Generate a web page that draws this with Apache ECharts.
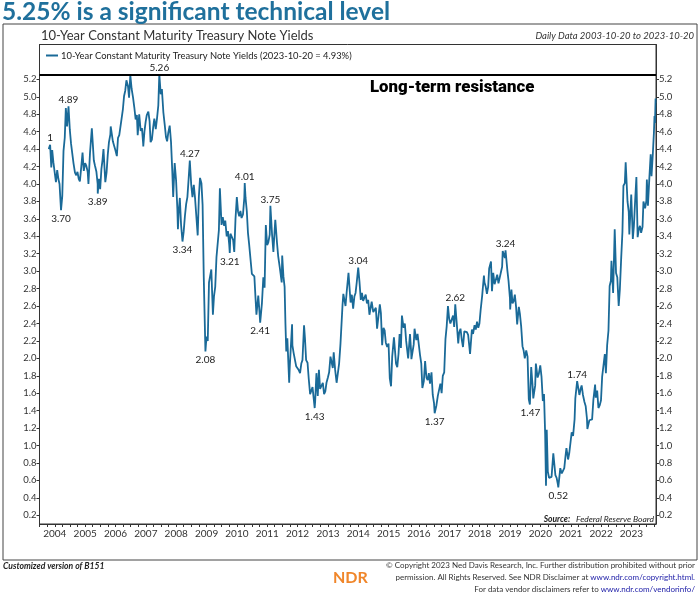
<!DOCTYPE html>
<html><head><meta charset="utf-8">
<script src="https://cdn.jsdelivr.net/npm/echarts@6/dist/echarts.min.js"></script>
<style>html,body{margin:0;padding:0;background:#fff}#c{width:700px;height:597px}</style>
</head><body><div id="c"></div>
<script>
// ---- data (10-Year Constant Maturity Treasury yields) ----
const dates = [
'2003-10-20','2003-11-06','2003-11-20','2003-12-01','2003-12-15','2003-12-31',
'2004-01-15','2004-01-30','2004-02-13','2004-02-27','2004-03-16','2004-03-31','2004-04-15','2004-04-30','2004-05-13','2004-05-28','2004-06-14','2004-06-30','2004-07-15','2004-07-30','2004-08-13','2004-08-31','2004-09-15','2004-09-30','2004-10-15','2004-10-29','2004-11-15','2004-11-30','2004-12-15','2004-12-31',
'2005-01-14','2005-01-31','2005-02-09','2005-02-28','2005-03-22','2005-03-31','2005-04-15','2005-04-29','2005-05-16','2005-05-31','2005-06-01','2005-06-15','2005-06-30','2005-07-15','2005-07-29','2005-08-09','2005-08-31','2005-09-15','2005-09-30','2005-10-14','2005-10-31','2005-11-04','2005-11-30','2005-12-15','2005-12-30',
'2006-01-17','2006-01-31','2006-02-15','2006-02-28','2006-03-15','2006-03-31','2006-04-14','2006-04-28','2006-05-12','2006-05-31','2006-06-13','2006-06-28','2006-07-14','2006-07-31','2006-08-15','2006-08-31','2006-09-15','2006-09-25','2006-10-13','2006-10-31','2006-11-15','2006-11-30','2006-12-01','2006-12-15','2006-12-29',
'2007-01-12','2007-01-31','2007-02-15','2007-02-27','2007-03-15','2007-03-30','2007-04-13','2007-04-30','2007-05-15','2007-05-31','2007-06-12','2007-06-29','2007-07-13','2007-07-31','2007-08-15','2007-08-31','2007-09-14','2007-09-28','2007-10-15','2007-10-31','2007-11-15','2007-11-26','2007-12-14','2007-12-31',
'2008-01-15','2008-01-22','2008-01-31','2008-02-14','2008-02-29','2008-03-17','2008-03-31','2008-04-15','2008-04-30','2008-05-15','2008-05-30','2008-06-13','2008-06-30','2008-07-15','2008-07-31','2008-08-15','2008-08-29','2008-09-16','2008-09-30','2008-10-14','2008-10-31','2008-11-14','2008-11-28','2008-12-18','2008-12-31',
'2009-01-15','2009-01-30','2009-02-13','2009-02-27','2009-03-18','2009-03-31','2009-04-15','2009-04-30','2009-05-15','2009-05-29','2009-06-10','2009-06-30','2009-07-15','2009-07-31','2009-08-14','2009-08-31','2009-09-15','2009-09-30','2009-10-07','2009-10-15','2009-10-30','2009-11-16','2009-11-30','2009-12-15','2009-12-31',
'2010-01-15','2010-01-29','2010-02-12','2010-02-26','2010-03-15','2010-03-31','2010-04-05','2010-04-15','2010-04-30','2010-05-14','2010-05-28','2010-06-15','2010-06-30','2010-07-15','2010-07-30','2010-08-13','2010-08-24','2010-09-15','2010-09-30','2010-10-08','2010-10-29','2010-11-15','2010-11-30','2010-12-15','2010-12-31',
'2011-01-14','2011-01-31','2011-02-08','2011-02-28','2011-03-16','2011-03-31','2011-04-08','2011-04-29','2011-05-13','2011-05-31','2011-06-24','2011-06-30','2011-07-15','2011-07-29','2011-08-08','2011-08-18','2011-08-31','2011-09-22','2011-09-30','2011-10-27','2011-10-31','2011-11-15','2011-11-30','2011-12-15','2011-12-30',
'2012-01-13','2012-01-31','2012-02-15','2012-02-29','2012-03-19','2012-03-30','2012-04-13','2012-04-30','2012-05-15','2012-05-31','2012-06-15','2012-06-29','2012-07-25','2012-07-31','2012-08-15','2012-08-31','2012-09-14','2012-09-28','2012-10-15','2012-10-31','2012-11-15','2012-11-30','2012-12-14','2012-12-31',
'2013-01-15','2013-01-31','2013-02-15','2013-02-28','2013-03-11','2013-03-28','2013-04-15','2013-04-30','2013-05-15','2013-05-31','2013-06-14','2013-06-25','2013-07-05','2013-07-31','2013-08-15','2013-08-30','2013-09-05','2013-09-30','2013-10-15','2013-10-31','2013-11-15','2013-11-29','2013-12-13','2013-12-31',
'2014-01-15','2014-01-31','2014-02-14','2014-02-28','2014-03-14','2014-03-31','2014-04-15','2014-04-30','2014-05-15','2014-05-30','2014-06-11','2014-06-30','2014-07-15','2014-07-31','2014-08-15','2014-08-29','2014-09-17','2014-09-30','2014-10-15','2014-10-31','2014-11-14','2014-11-28','2014-12-15','2014-12-31',
'2015-01-15','2015-01-30','2015-02-13','2015-02-27','2015-03-06','2015-03-31','2015-04-15','2015-04-30','2015-05-13','2015-05-29','2015-06-10','2015-06-30','2015-07-15','2015-07-31','2015-08-14','2015-08-24','2015-09-15','2015-09-30','2015-10-02','2015-10-30','2015-11-09','2015-11-30','2015-12-15','2015-12-31',
'2016-01-15','2016-01-29','2016-02-11','2016-02-29','2016-03-15','2016-03-31','2016-04-15','2016-04-29','2016-05-13','2016-05-31','2016-06-15','2016-06-30','2016-07-08','2016-07-29','2016-08-15','2016-08-31','2016-09-15','2016-09-30','2016-10-14','2016-10-31','2016-11-15','2016-11-30','2016-12-15','2016-12-30',
'2017-01-13','2017-01-31','2017-02-15','2017-02-28','2017-03-13','2017-03-31','2017-04-18','2017-04-28','2017-05-15','2017-05-31','2017-06-14','2017-06-30','2017-07-14','2017-07-31','2017-08-15','2017-08-31','2017-09-07','2017-09-29','2017-10-13','2017-10-31','2017-11-15','2017-11-30','2017-12-15','2017-12-29',
'2018-01-12','2018-01-31','2018-02-21','2018-02-28','2018-03-15','2018-03-29','2018-04-13','2018-04-25','2018-05-17','2018-05-29','2018-06-13','2018-06-29','2018-07-13','2018-07-31','2018-08-15','2018-08-29','2018-09-14','2018-09-28','2018-10-05','2018-10-31','2018-11-08','2018-11-30','2018-12-14','2018-12-31',
'2019-01-03','2019-01-18','2019-01-31','2019-02-15','2019-02-28','2019-03-15','2019-03-28','2019-04-17','2019-04-30','2019-05-15','2019-05-31','2019-06-14','2019-06-28','2019-07-15','2019-07-31','2019-08-15','2019-08-28','2019-09-03','2019-09-13','2019-09-30','2019-10-08','2019-10-31','2019-11-08','2019-11-29','2019-12-13','2019-12-31',
'2020-01-15','2020-01-31','2020-02-14','2020-02-28','2020-03-09','2020-03-18','2020-03-31','2020-04-15','2020-04-30','2020-05-15','2020-05-29','2020-06-05','2020-06-30','2020-07-15','2020-07-31','2020-08-04','2020-08-28','2020-09-15','2020-09-30','2020-10-15','2020-10-30','2020-11-10','2020-11-30','2020-12-15','2020-12-31',
'2021-01-12','2021-01-29','2021-02-16','2021-02-25','2021-03-19','2021-03-31','2021-04-15','2021-04-30','2021-05-12','2021-05-28','2021-06-15','2021-06-30','2021-07-15','2021-07-20','2021-08-13','2021-08-31','2021-09-15','2021-09-30','2021-10-21','2021-10-29','2021-11-15','2021-11-30','2021-12-15','2021-12-31',
'2022-01-14','2022-01-31','2022-02-15','2022-02-28','2022-03-15','2022-03-31','2022-04-14','2022-04-29','2022-05-06','2022-05-26','2022-06-14','2022-06-30','2022-07-15','2022-08-01','2022-08-15','2022-08-31','2022-09-15','2022-09-27','2022-10-14','2022-10-24','2022-11-15','2022-11-30','2022-12-07','2022-12-30',
'2023-01-18','2023-01-31','2023-02-15','2023-03-02','2023-03-17','2023-03-31','2023-04-14','2023-04-28','2023-05-15','2023-05-26','2023-06-15','2023-06-30','2023-07-06','2023-07-19','2023-08-04','2023-08-21','2023-08-31','2023-09-15','2023-09-29','2023-10-06','2023-10-12','2023-10-19','2023-10-20'
];
const yields = [
4.40,4.45,4.19,4.39,4.25,4.27,
4.02,4.16,4.06,4.00,3.70,3.86,4.38,4.53,4.87,4.66,4.89,4.62,4.46,4.48,4.24,4.13,4.10,4.14,4.06,4.03,4.20,4.36,4.15,4.24,
4.21,4.14,4.00,4.36,4.64,4.50,4.27,4.21,4.14,4.00,3.89,4.06,3.94,4.17,4.28,4.40,4.02,4.13,4.34,4.48,4.57,4.66,4.49,4.44,4.39,
4.32,4.53,4.56,4.55,4.75,4.86,5.01,5.07,5.19,5.12,4.99,5.25,5.09,4.99,4.88,4.74,4.79,4.56,4.80,4.61,4.64,4.46,4.43,4.60,4.71,
4.79,4.83,4.72,4.48,4.51,4.65,4.75,4.63,4.75,4.90,5.26,5.03,5.09,4.82,4.69,4.54,4.49,4.59,4.67,4.48,4.15,3.85,4.24,4.04,
3.72,3.48,3.67,3.84,3.53,3.34,3.45,3.63,3.77,3.85,4.06,4.27,3.99,3.85,3.99,3.84,3.83,3.41,3.85,4.07,4.01,3.76,2.93,2.08,2.25,
2.20,2.87,2.89,3.02,2.50,2.71,2.82,3.16,3.14,3.47,3.95,3.53,3.62,3.52,3.58,3.40,3.46,3.31,3.21,3.43,3.41,3.36,3.22,3.60,3.85,
3.68,3.63,3.69,3.61,3.65,3.84,4.01,3.84,3.69,3.44,3.31,3.33,2.97,2.99,2.94,2.69,2.50,2.72,2.53,2.41,2.63,2.93,2.81,3.53,3.30,
3.33,3.42,3.75,3.42,3.22,3.47,3.59,3.32,3.17,3.05,2.87,3.18,2.94,2.82,2.40,2.08,2.23,1.72,1.92,2.39,2.15,2.06,2.08,1.91,1.89,
1.87,1.83,1.94,1.98,2.38,2.23,1.98,1.95,1.76,1.59,1.60,1.67,1.43,1.51,1.83,1.57,1.87,1.65,1.66,1.72,1.59,1.62,1.72,1.78,
1.84,2.02,2.01,1.89,2.07,1.87,1.72,1.70,1.94,2.16,2.14,2.61,2.74,2.60,2.77,2.78,2.98,2.64,2.73,2.57,2.71,2.75,2.87,3.04,
2.88,2.67,2.75,2.66,2.65,2.73,2.63,2.67,2.50,2.48,2.65,2.53,2.55,2.58,2.34,2.35,2.62,2.52,2.15,2.35,2.32,2.18,2.13,2.17,
1.77,1.68,2.02,2.00,2.24,1.94,1.90,2.05,2.28,2.12,2.49,2.35,2.40,2.20,2.20,2.00,2.28,2.06,1.99,2.16,2.34,2.21,2.28,2.27,
2.03,1.94,1.66,1.74,1.97,1.78,1.75,1.83,1.71,1.84,1.58,1.49,1.37,1.46,1.57,1.58,1.71,1.60,1.80,1.84,2.22,2.37,2.60,2.45,
2.40,2.45,2.49,2.36,2.62,2.40,2.17,2.29,2.34,2.21,2.13,2.31,2.33,2.30,2.27,2.12,2.05,2.33,2.28,2.38,2.33,2.42,2.35,2.40,
2.55,2.72,2.95,2.87,2.82,2.74,2.82,3.03,3.11,2.77,2.98,2.85,2.83,2.96,2.86,2.88,2.99,3.05,3.23,3.15,3.24,3.01,2.89,2.69,
2.56,2.79,2.63,2.66,2.73,2.59,2.39,2.59,2.51,2.37,2.14,2.09,2.00,2.09,2.02,1.53,1.47,1.47,1.90,1.68,1.54,1.69,1.94,1.78,1.82,1.92,
1.79,1.51,1.59,1.13,0.54,1.18,0.70,0.63,0.64,0.64,0.65,0.91,0.66,0.63,0.55,0.52,0.74,0.68,0.69,0.74,0.88,0.97,0.84,0.92,0.93,
1.15,1.11,1.30,1.54,1.74,1.74,1.58,1.65,1.69,1.58,1.50,1.45,1.31,1.19,1.29,1.31,1.30,1.52,1.70,1.55,1.63,1.43,1.46,1.52,
1.79,1.79,2.05,1.83,2.15,2.32,2.83,2.89,3.12,2.75,3.48,2.98,2.93,2.60,2.79,3.15,3.45,3.98,4.01,4.25,3.80,3.68,3.42,3.88,
3.37,3.52,3.81,4.08,3.39,3.48,3.52,3.44,3.51,3.80,3.72,3.81,4.05,3.75,4.05,4.34,4.09,4.33,4.59,4.78,4.70,4.98,4.93
];
// annotated turning points
const noteDates  = ['2003-11-06','2004-03-16','2004-06-14','2005-06-01','2007-06-12','2008-03-17','2008-06-13','2008-12-18','2009-10-07','2010-04-05','2010-10-08','2011-02-08','2012-07-25','2013-12-31','2016-07-08','2017-03-13','2018-11-08','2019-09-03','2020-08-04','2021-03-19'];
const noteValues = [4.45,3.70,4.89,3.89,5.26,3.34,4.27,2.08,3.21,4.01,2.41,3.75,1.43,3.04,1.37,2.62,3.24,1.47,0.52,1.74];
const noteText   = ['1','3.70','4.89','3.89','5.26','3.34','4.27','2.08','3.21','4.01','2.41','3.75','1.43','3.04','1.37','2.62','3.24','1.47','0.52','1.74'];
const notePos    = ['top','bottom','top','bottom','top','bottom','top','bottom','bottom','top','bottom','top','bottom','top','bottom','top','top','bottom','bottom','top'];
const yTicks = [0.2,0.4,0.6,0.8,1.0,1.2,1.4,1.6,1.8,2.0,2.2,2.4,2.6,2.8,3.0,3.2,3.4,3.6,3.8,4.0,4.2,4.4,4.6,4.8,5.0,5.2];
const yearLabels = [2004,2005,2006,2007,2008,2009,2010,2011,2012,2013,2014,2015,2016,2017,2018,2019,2020,2021,2022,2023];
const resistance = 5.25;
const legendName = '10-Year Constant Maturity Treasury Note Yields (2023-10-20 = 4.93%)';

// ---- chart ----
const LINE = '#1a6a98';
const ts = s => { const p = s.split('-').map(Number); return Date.UTC(p[0], p[1]-1, p[2]); };
const seriesData = dates.map((d, i) => [ts(d), yields[i]]);
const xMin = ts('2003-07-01'), xMax = ts('2023-10-24');
const yearTs = yearLabels.map(y => Date.UTC(y, 0, 1));
const quarterTs = [];
for (let y = 2003; y <= 2023; y++) for (let m = 0; m < 12; m += 3) { const t = Date.UTC(y, m, 1); if (t >= xMin && t <= xMax) quarterTs.push(t); }

const markData = noteDates.map((d, i) => ({
  coord: [ts(d), noteValues[i]],
  label: { formatter: noteText[i], position: notePos[i], distance: notePos[i] === 'top' ? 1 : 3 }
}));

const chart = echarts.init(document.getElementById('c'), null, { renderer: 'canvas' });
const font = 'Lato, "Open Sans", sans-serif';
const yAxisBase = {
  type: 'value', min: 0.1, max: 5.6,
  axisLine: { show: true, lineStyle: { color: '#333', width: 1 } },
  axisTick: { show: true, length: 3, customValues: yTicks, lineStyle: { color: '#333' } },
  axisLabel: { customValues: yTicks, formatter: v => v.toFixed(1), color: '#333', fontSize: 9.5, fontFamily: font, margin: 3 },
  splitLine: { show: false }
};
chart.setOption({
  animation: false,
  textStyle: { fontFamily: font },
  grid: { left: 39.5, right: 44, top: 44.5, bottom: 73, show: true, borderColor: '#333', borderWidth: 1, backgroundColor: 'transparent' },
  legend: {
    data: [{ name: legendName }], left: 41, top: 46, itemWidth: 12, itemHeight: 2, itemGap: 4,
    icon: 'rect', textStyle: { fontSize: 9.4, color: '#222', fontFamily: font, padding: [0, 0, 0, -2] }
  },
  xAxis: {
    type: 'value', min: xMin, max: xMax,
    axisLine: { show: true, lineStyle: { color: '#333' } },
    axisTick: { show: true, length: 3, customValues: quarterTs, lineStyle: { color: '#333' } },
    axisLabel: { customValues: yearTs, formatter: v => String(new Date(v).getUTCFullYear()), color: '#333', fontSize: 10, fontFamily: font, margin: 5 },
    splitLine: { show: false }
  },
  yAxis: [
    Object.assign({}, yAxisBase, { position: 'left' }),
    Object.assign({}, yAxisBase, { position: 'right' })
  ],
  series: [{
    name: legendName, type: 'line', data: seriesData, showSymbol: false, symbol: 'none',
    lineStyle: { color: LINE, width: 1.8 }, itemStyle: { color: LINE },
    markLine: {
      silent: true, symbol: ['none', 'none'], label: { show: false },
      lineStyle: { color: '#000', width: 2, type: 'solid' },
      data: [{ yAxis: resistance }]
    },
    markPoint: {
      symbol: 'circle', symbolSize: 1, itemStyle: { color: 'rgba(0,0,0,0)' },
      label: { show: true, color: '#222', fontSize: 10, fontFamily: font },
      data: markData
    }
  }],
  graphic: [
    { type: 'rect', shape: { x: 3, y: 24, width: 694, height: 536 }, style: { fill: 'none', stroke: '#444', lineWidth: 1 }, silent: true },
    { type: 'text', left: 2, top: 0, style: { text: '5.25% is a significant technical level', fill: '#1f709c', font: 'bold 24.5px Lato, sans-serif' } },
    { type: 'text', left: 41, top: 29, style: { text: '10-Year Constant Maturity Treasury Note Yields', fill: '#333', font: '13px Lato, sans-serif' } },
    { type: 'text', right: 6, top: 31, style: { text: 'Daily Data 2003-10-20 to 2023-10-20', fill: '#333', font: 'italic 9.5px Lato, sans-serif' } },
    { type: 'text', left: 370, top: 79, style: { text: 'Long-term resistance', fill: '#000', font: '900 16.8px Roboto, sans-serif' } },
    { type: 'text', right: 46, top: 515, style: { rich: { b: { font: 'bold italic 8.5px Lato, sans-serif', fill: '#222' }, n: { font: 'italic 8.5px Lato, sans-serif', fill: '#222' } }, text: '{b|Source:}{n|   Federal Reserve Board}' } },
    { type: 'text', left: 3, top: 562, style: { text: 'Customized version of B151', fill: '#222', font: 'bold italic 8.6px Lato, sans-serif' } },
    { type: 'text', left: 333, top: 570, style: { text: 'NDR', fill: '#f0862a', font: 'bold 16px Lato, sans-serif' } },
    { type: 'text', right: 5, top: 561, style: { text: '© Copyright 2023 Ned Davis Research, Inc. Further distribution prohibited without prior', fill: '#333', font: '8px Lato, sans-serif' } },
    { type: 'text', right: 5, top: 573, style: { rich: { n: { font: '8px Lato, sans-serif', fill: '#333' }, u: { font: '8px Lato, sans-serif', fill: '#1a1aa6' } }, text: '{n|permission. All Rights Reserved. See NDR Disclaimer at }{u|www.ndr.com/copyright.html.}' } },
    { type: 'text', right: 5, top: 585, style: { rich: { n: { font: '8px Lato, sans-serif', fill: '#333' }, u: { font: '8px Lato, sans-serif', fill: '#1a1aa6' } }, text: '{n|For data vendor disclaimers refer to }{u|www.ndr.com/vendorinfo/}' } }
  ]
});
</script>
</body></html>
